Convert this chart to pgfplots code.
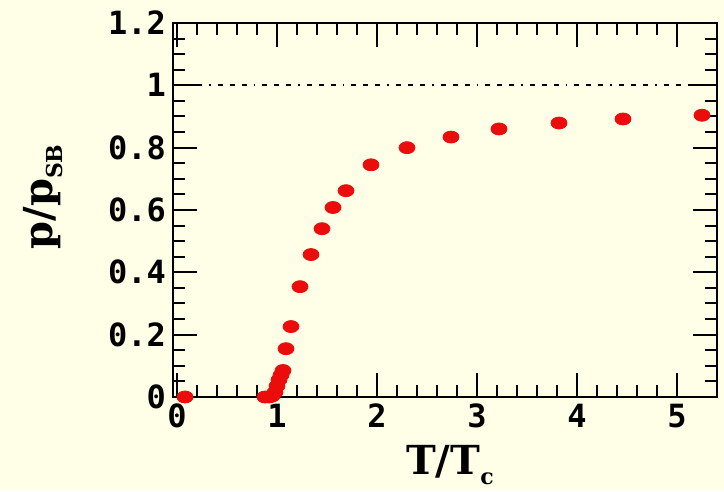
\documentclass[border=0pt]{standalone}
\usepackage{pgfplots}
\pgfplotsset{compat=1.18}
\usepackage{fontspec}
\newfontfamily\tickfont{DejaVu Sans Mono}
\newfontfamily\labfont{DejaVu Serif}
\definecolor{bgcol}{RGB}{255,255,232}
\definecolor{ptred}{RGB}{235,12,12}
\begin{document}
\begin{tikzpicture}
\fill[bgcol] (0,0) rectangle (362pt,245pt);
\begin{axis}[
  at={(86.5pt,46.5pt)}, anchor=south west,
  width=272pt, height=187pt, scale only axis,
  xmin=-0.04, xmax=5.4, ymin=0, ymax=1.2,
  xtick={0,1,2,3,4,5},
  minor x tick num=4,
  ytick={0,0.2,0.4,0.6,0.8,1,1.2},
  minor y tick num=3,
  extra y ticks={1},
  extra y tick labels={},
  extra y tick style={grid=major, major grid style={black, line width=0.9pt, dash pattern=on 2.5pt off 3.5pt on 2.5pt off 3.5pt on 2.5pt off 3.5pt on 0.8pt off 3.5pt}},
  tick align=inside,
  major tick length=12pt, minor tick length=6pt,
  axis line style={line width=1.1pt},
  major tick style={draw=black, line width=1pt},
  minor tick style={draw=black, line width=1pt},
  /pgf/number format/assume math mode=true,
  ticklabel style={font=\tickfont\bfseries\fontsize{16}{16}\selectfont},
  clip=false,
]
\addplot[only marks, mark=*, mark size=3pt, color=ptred, mark options={xscale=1.33, fill=ptred, draw=ptred}]
  coordinates {
  (0.08,0)
  (0.88,0)
  (0.92,0)
  (0.95,0.003)
  (0.98,0.015)
  (1.00,0.035)
  (1.02,0.055)
  (1.04,0.07)
  (1.06,0.085)
  (1.09,0.155)
  (1.14,0.226)
  (1.23,0.354)
  (1.34,0.457)
  (1.45,0.54)
  (1.56,0.608)
  (1.69,0.662)
  (1.94,0.745)
  (2.30,0.80)
  (2.74,0.834)
  (3.22,0.86)
  (3.82,0.879)
  (4.46,0.892)
  (5.25,0.904)
  };
\end{axis}
\node[rotate=90, anchor=center, font=\labfont\bfseries\fontsize{20}{20}\selectfont] at (21.5pt,146.5pt)
  {p/p\raisebox{-5pt}{\fontsize{11}{11}\selectfont SB}};
\node[anchor=base, font=\labfont\bfseries\fontsize{20}{20}\selectfont] at (225pt,7.5pt)
  {T/T\raisebox{-5pt}{\fontsize{11}{11}\selectfont c}};
\end{tikzpicture}
\end{document}
